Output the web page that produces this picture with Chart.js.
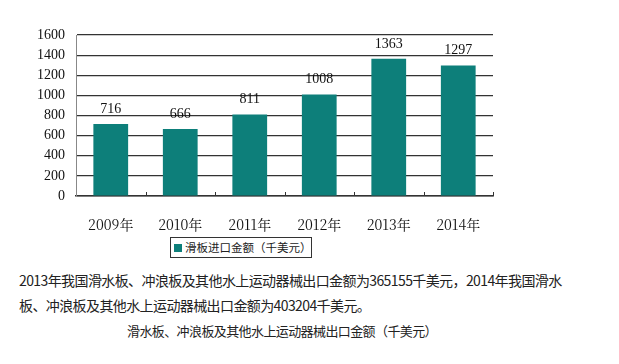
<!DOCTYPE html>
<html>
<head>
<meta charset="utf-8">
<script src="https://cdn.jsdelivr.net/npm/chart.js@4/dist/chart.umd.min.js"></script>
<style>
  html, body { margin: 0; padding: 0; background: #fff; }
  body { width: 619px; height: 364px; position: relative; overflow: hidden; font-family: "Noto Sans CJK SC", sans-serif; }
  #wrap { position: absolute; left: 0; top: 0; width: 619px; height: 232px; }
  #legend { position: absolute; left: 170px; top: 237px; width: 140px; height: 19px; border: 1px solid #333;
    font-size: 11.5px; line-height: 19px; color: #222; box-sizing: content-box; white-space: nowrap; overflow: hidden; }
  #legend span.sw { display: inline-block; width: 8px; height: 8px; background: #0d7f7a; margin: 0 3px 0 3px; }
  #para { position: absolute; left: 19px; top: 268px; font-size: 14px; line-height: 25px; color: #222; white-space: nowrap; letter-spacing: -0.6px; }
  #caption { position: absolute; left: 0; width: 564px; top: 321px; text-align: center; font-size: 13px; letter-spacing: -0.6px; color: #222; }
</style>
</head>
<body>
<div id="wrap"><canvas id="c"></canvas></div>
<div id="legend"><span class="sw"></span>滑板进口金额（千美元）</div>
<div id="para">2013年我国滑水板、冲浪板及其他水上运动器械出口金额为365155千美元，2014年我国滑水<br>板、冲浪板及其他水上运动器械出口金额为403204千美元。</div>
<div id="caption">滑水板、冲浪板及其他水上运动器械出口金额（千美元）</div>
<script>
const years = ["2009年", "2010年", "2011年", "2012年", "2013年", "2014年"];
const importValues = [716, 666, 811, 1008, 1363, 1297];
const yTicks = [0, 200, 400, 600, 800, 1000, 1200, 1400, 1600];
const seriesName = "滑板进口金额（千美元）";

const BAR_COLOR = "#0d7f7a";
const SERIF = "'Liberation Serif', 'DejaVu Serif', serif";

// value labels above each bar
const valueLabels = {
    id: "valueLabels",
    afterDatasetsDraw(chart) {
        const ctx = chart.ctx;
        const meta = chart.getDatasetMeta(0);
        ctx.save();
        ctx.font = `14px ${SERIF}`;
        ctx.fillStyle = "#111";
        ctx.textAlign = "center";
        ctx.textBaseline = "middle";
        meta.data.forEach((bar, i) => {
            ctx.fillText(String(importValues[i]), bar.x, bar.y - 15);
        });
        ctx.restore();
    },
};

// small inward ticks between categories on the x axis
const boundaryTicks = {
    id: "boundaryTicks",
    afterDraw(chart) {
        const { ctx, chartArea } = chart;
        const n = years.length;
        const step = (chartArea.right - chartArea.left) / n;
        ctx.save();
        ctx.strokeStyle = "#333";
        ctx.lineWidth = 1;
        for (let i = 1; i <= n; i++) {
            const x = Math.round(chartArea.left + i * step) + 0.5;
            ctx.beginPath();
            ctx.moveTo(x, chartArea.bottom);
            ctx.lineTo(x, chartArea.bottom - 4);
            ctx.stroke();
        }
        ctx.restore();
    },
};

new Chart(document.getElementById("c"), {
    type: "bar",
    data: {
        labels: years,
        datasets: [{
            label: seriesName,
            data: importValues,
            backgroundColor: BAR_COLOR,
            borderWidth: 0,
            barPercentage: 0.5,
            categoryPercentage: 1.0,
        }],
    },
    options: {
        responsive: true,
        maintainAspectRatio: false,
        animation: false,
        layout: { padding: { left: 0, right: 126, top: 35, bottom: 0 } },
        plugins: { legend: { display: false }, tooltip: { enabled: false } },
        scales: {
            x: {
                grid: { display: false },
                border: { display: true, color: "#333", width: 1.5 },
                ticks: { color: "#111", font: { family: "'Noto Serif CJK SC', " + SERIF, size: 14 }, padding: 12 },
                afterFit(scale) { scale.height = 36; },
            },
            y: {
                min: 0,
                max: 1600,
                afterBuildTicks(scale) { scale.ticks = yTicks.map((v) => ({ value: v })); },
                grid: { color: "#333", lineWidth: 1.2, drawTicks: false },
                border: { display: true, color: "#888", width: 1 },
                ticks: { color: "#111", font: { family: SERIF, size: 14 }, padding: 11, callback: (v) => String(v) },
                afterFit(scale) { scale.width = 76; },
            },
        },
    },
    plugins: [valueLabels, boundaryTicks],
});
</script>
</body>
</html>
